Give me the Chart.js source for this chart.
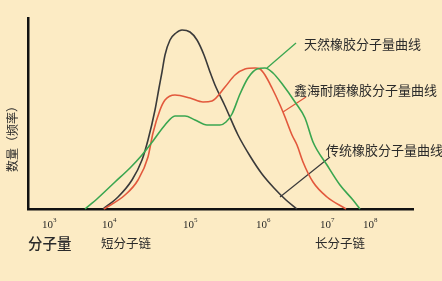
<!DOCTYPE html>
<html>
<head>
<meta charset="utf-8">
<script src="https://cdn.jsdelivr.net/npm/chart.js@4.4.1/dist/chart.umd.min.js"></script>
<style>
  html, body { margin: 0; padding: 0; background: #fcebc4; }
  #wrap { width: 442px; height: 281px; }
</style>
</head>
<body>
<div id="wrap"><canvas id="c" width="442" height="281"></canvas></div>
<script>
// x = position along the molecular weight axis, y = relative count (frequency)
var tickPos    = [21, 81, 162, 235, 299, 342];
var tickLabels = ['3', '4', '5', '6', '7', '8'];   // exponents of 10

var tradX = [75, 90, 104, 114, 120, 127, 131, 134, 137, 142, 148, 154, 162, 169, 176, 182, 187, 197, 210, 222, 234, 246, 258, 269];
var tradY = [0, 12, 29, 49, 69, 99, 121, 137, 154, 169, 176, 179, 177, 169, 154, 137, 124, 103, 74, 53, 35, 21, 9, 0];

var xinhaiX = [76, 97, 110, 120, 125, 132, 137, 147, 162, 175, 184, 197, 207, 217, 227, 232, 237, 244, 252, 257, 264, 269, 275, 285, 299, 318];
var xinhaiY = [0, 14, 29, 52, 76, 99, 109, 114, 111, 107, 108, 122, 134, 140, 141, 140, 134, 121, 104, 92, 74, 64, 47, 27, 12, 0];

var natX = [57, 70, 87, 102, 114, 125, 137, 147, 157, 167, 179, 192, 198, 204, 212, 220, 229, 237, 245, 255, 267, 277, 285, 299, 312, 325, 332];
var natY = [0, 11, 27, 41, 54, 68, 84, 93, 93, 89, 84, 84, 87, 95, 115, 131, 140, 141, 136, 124, 107, 91, 67, 44, 24, 9, 0];

// leader lines from curve to label
var natLeaderX = [239, 268],   natLeaderY = [141, 166];
var xhLeaderX  = [255, 278],   xhLeaderY  = [97, 112];
var tradLeaderX = [252, 302],  tradLeaderY = [12, 52];

var names = ['天然橡胶分子量曲线', '鑫海耐磨橡胶分子量曲线', '传统橡胶分子量曲线'];

function pts(xs, ys) {
  return xs.map(function (x, i) { return { x: x, y: ys[i] }; });
}

var GREEN = '#3aa650', RED = '#e2583c', DARK = '#3a3a3a', TXT = '#2a2a2a';
var CJK = '"Noto Sans CJK SC", sans-serif';

function curve(data, color) {
  return { data: data, borderColor: color, borderWidth: 1.6, pointRadius: 0,
           fill: false, cubicInterpolationMode: 'monotone', clip: false };
}
function leader(data, color) {
  return { data: data, borderColor: color, borderWidth: 1.3, pointRadius: 0,
           fill: false, tension: 0, clip: false };
}

var textPlugin = {
  id: 'texts',
  afterDraw: function (chart) {
    var ctx = chart.ctx, xs = chart.scales.x;
    ctx.save();
    ctx.fillStyle = TXT;
    // tick labels 10^n
    for (var i = 0; i < tickPos.length; i++) {
      var px = xs.getPixelForValue(tickPos[i]);
      ctx.font = '11px "Liberation Serif", serif';
      ctx.textBaseline = 'middle';
      ctx.textAlign = 'left';
      ctx.fillText('10', px - 7, 225);
      ctx.font = '7px "Liberation Serif", serif';
      ctx.fillText(tickLabels[i], px + 4, 220);
    }
    // curve names
    ctx.textBaseline = 'middle';
    ctx.textAlign = 'left';
    ctx.font = '13px ' + CJK;
    ctx.fillText(names[0], 304, 44);
    ctx.fillText(names[1], 294, 90);
    ctx.fillText(names[2], 326, 150);
    // axis words
    ctx.font = '500 14.5px ' + CJK;
    ctx.fillText('分子量', 28, 243);
    ctx.font = '12.5px ' + CJK;
    ctx.fillText('短分子链', 101, 243);
    ctx.fillText('长分子链', 315, 243);
    // y title
    ctx.translate(12, 136);
    ctx.rotate(-Math.PI / 2);
    ctx.textAlign = 'center';
    ctx.font = '12px ' + CJK;
    ctx.fillText('数量（频率）', 0, 0);
    ctx.restore();
  }
};

new Chart(document.getElementById('c'), {
  type: 'line',
  data: {
    datasets: [
      curve(pts(natX, natY), GREEN),
      curve(pts(xinhaiX, xinhaiY), RED),
      curve(pts(tradX, tradY), DARK),
      leader(pts(natLeaderX, natLeaderY), GREEN),
      leader(pts(xhLeaderX, xhLeaderY), RED),
      leader(pts(tradLeaderX, tradLeaderY), DARK)
    ]
  },
  options: {
    responsive: false,
    animation: false,
    layout: { padding: { left: 28, top: 18, right: 29, bottom: 72 } },
    plugins: { legend: { display: false }, tooltip: { enabled: false } },
    scales: {
      x: {
        type: 'linear', min: 0, max: 385,
        ticks: { display: false },
        grid: { display: false },
        border: { display: true, color: '#111', width: 2.5 },
        afterFit: function (s) { s.height = 0; }
      },
      y: {
        type: 'linear', min: 0, max: 191,
        ticks: { display: false },
        grid: { display: false },
        border: { display: true, color: '#111', width: 2.5 },
        afterFit: function (s) { s.width = 0; }
      }
    }
  },
  plugins: [textPlugin]
});
</script>
</body>
</html>
